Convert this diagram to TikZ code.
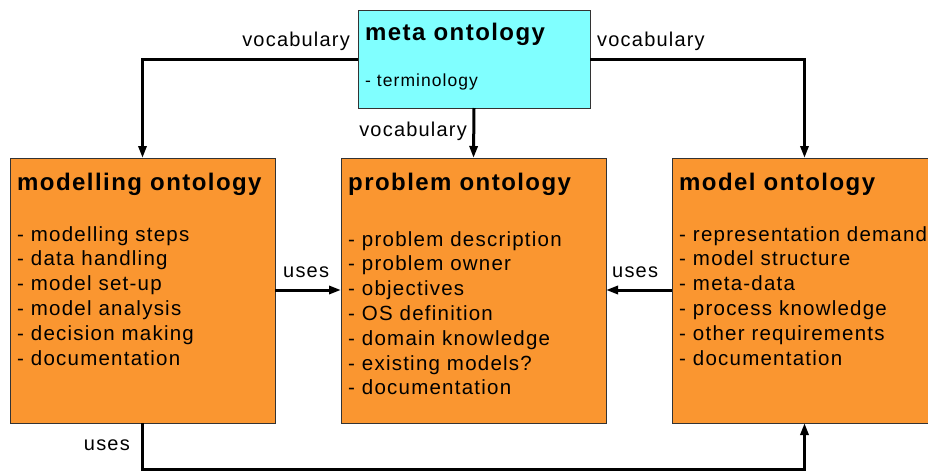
\documentclass[tikz,border=0pt]{standalone}
\usepackage{fontspec}
\setmainfont{Liberation Sans}
\newfontfamily\diafont[LetterSpace=6]{Liberation Sans}
\usetikzlibrary{arrows.meta,positioning}

\definecolor{onto}{RGB}{250,150,48}
\definecolor{meta}{RGB}{128,255,255}
\tikzset{
  ontobox/.style={rectangle,draw=black!80,fill=onto,minimum width=265pt,minimum height=265pt,inner sep=0pt,outer sep=0pt},
  metabox/.style={rectangle,draw=black!80,fill=meta,minimum width=232pt,minimum height=98pt,inner sep=0pt,outer sep=0pt},
  title/.style={anchor=base west,inner sep=0pt,font=\diafont\fontsize{24}{28}\selectfont\bfseries},
  items/.style={anchor=base west,inner sep=0pt,font=\diafont\fontsize{20.5}{24.8}\selectfont},
  lbl/.style={inner sep=0pt,font=\diafont\fontsize{20}{24}\selectfont},
  link/.style={line width=3pt,-{Triangle[length=12pt,width=8pt]}},
}
\newcommand{\itemlist}[1]{\parbox[t]{300pt}{\raggedright #1}}

\begin{document}
\begin{tikzpicture}[x=1pt,y=-1pt]
  \useasboundingbox (0,0) rectangle (928,472);
  \clip (0,0) rectangle (928,472);

  % boxes
  \node[metabox] (meta) at (474,59) {};
  \node[ontobox] (modelling) at (142.5,290.5) {};
  \node[ontobox,right=66pt of modelling] (problem) {};
  \node[ontobox,right=66pt of problem] (model) {};

  % texts
  \node[title] (metat) at ([shift={(7pt,-30pt)}]meta.north west) {meta ontology};
  \node[items,font=\diafont\fontsize{17.5}{20}\selectfont] (metai) at ([shift={(7pt,-76pt)}]meta.north west) {- terminology};

  \node[title] (modellingt) at ([shift={(7pt,-32pt)}]modelling.north west) {modelling ontology};
  \node[items] (modellingi) at ([shift={(7pt,-83pt)}]modelling.north west) {\itemlist{%
    - modelling steps\\ - data handling\\ - model set-up\\ - model analysis\\
    - decision making\\ - documentation}};

  \node[title] (problemt) at ([shift={(7pt,-32pt)}]problem.north west) {problem ontology};
  \node[items] (problemi) at ([shift={(7pt,-88pt)}]problem.north west) {\itemlist{%
    - problem description\\ - problem owner\\ - objectives\\ - OS definition\\
    - domain knowledge\\ - existing models?\\ - documentation}};

  \node[title] (modelt) at ([shift={(7pt,-32pt)}]model.north west) {model ontology};
  \node[items] (modeli) at ([shift={(7pt,-83pt)}]model.north west) {\itemlist{%
    - representation demand\\ - model structure\\ - meta-data\\ - process knowledge\\
    - other requirements\\ - documentation}};

  % connectors
  \draw[link] (meta.west) -| (modelling.north);
  \draw[link] (meta.east) -| (model.north);
  \draw[link] (meta.south) -- (problem.north);
  \draw[link] (modelling.east |- 0,290) -- (problem.west |- 0,290);
  \draw[link] (model.west |- 0,290) -- (problem.east |- 0,290);
  \coordinate (bl) at (modelling.south |- 0,469.5);
  \coordinate (br) at (model.south |- 0,469.5);
  \draw[link] (modelling.south) -- (bl) -- (br) -- (model.south);

  % labels
  \node[lbl,anchor=base east] (vocl) at (350,46) {vocabulary};
  \node[lbl,anchor=base west] (vocr) at (597,46) {vocabulary};
  \node[lbl,anchor=base east] (vocm) at (467,136) {vocabulary};
  \node[lbl,anchor=base west] (usesl) at (283,277) {uses};
  \node[lbl,anchor=base west] (usesr) at (612,277) {uses};
  \node[lbl,anchor=base east] (usesb) at (130,450) {uses};
\end{tikzpicture}
\end{document}
